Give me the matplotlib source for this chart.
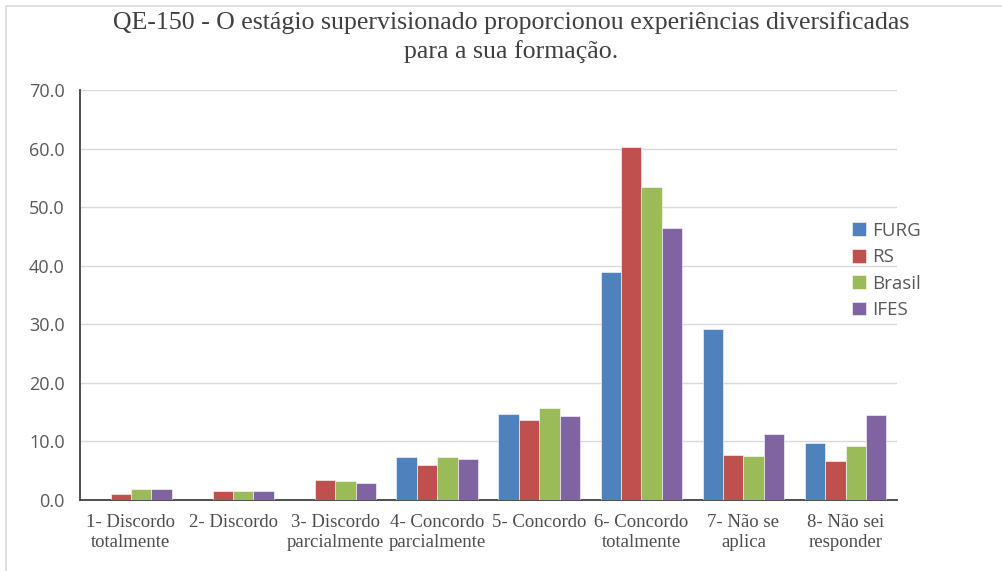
import numpy as np
import matplotlib.pyplot as plt
from matplotlib.patches import Rectangle

categories = ['1- Discordo\ntotalmente', '2- Discordo', '3- Discordo\nparcialmente',
              '4- Concordo\nparcialmente', '5- Concordo', '6- Concordo\ntotalmente',
              '7- Não se\naplica', '8- Não sei\nresponder']
series = ['FURG', 'RS', 'Brasil', 'IFES']
furg = [0.0, 0.0, 0.0, 7.3, 14.7, 38.9, 29.2, 9.8]
rs = [1.0, 1.5, 3.4, 6.0, 13.7, 60.2, 7.7, 6.6]
brasil = [1.9, 1.5, 3.2, 7.3, 15.7, 53.4, 7.6, 9.3]
ifes = [1.9, 1.5, 2.9, 7.0, 14.4, 46.4, 11.3, 14.6]
colors = ['#4F81BD', '#C0504D', '#9BBB59', '#8064A2']

fig = plt.figure(figsize=(10.02, 5.71), dpi=100)
ax = fig.add_axes([0.0798, 0.1243, 0.815, 0.718])

# faint frame round the picture
fig.patches.append(Rectangle((0.006, -0.01), 1.1, 1.0, transform=fig.transFigure,
                             fill=False, edgecolor='#d9d9d9', linewidth=1.2))

x = np.arange(len(categories))
w = 0.2
for i, (vals, name) in enumerate(zip([furg, rs, brasil, ifes], series)):
    ax.bar(x + (i - 1.5) * w, vals, w, color=colors[i], label=name,
           edgecolor='white', linewidth=0.4, zorder=3)

ax.set_xlim(-0.5, len(categories) - 0.5)
ax.set_ylim(0, 70)
ax.set_yticks(np.arange(0, 71, 10))
ax.set_yticklabels(['%.1f' % v for v in np.arange(0, 71, 10)],
                   fontfamily='Open Sans', fontsize=13, color='#595959')
ax.set_xticks(x)
ax.set_xticklabels(categories, fontfamily='Liberation Serif', fontsize=13.5,
                   color='#4d4d4d', linespacing=1.25)
ax.tick_params(axis='y', length=0, pad=11)
ax.tick_params(axis='x', length=0, pad=10)
ax.grid(axis='y', color='#d9d9d9', linewidth=1, zorder=0)
for s in ['top', 'right']:
    ax.spines[s].set_visible(False)
ax.spines['left'].set_color('#404040')
ax.spines['bottom'].set_color('#404040')
ax.spines['left'].set_linewidth(1.3)
ax.spines['bottom'].set_linewidth(1.3)

fig.text(0.51, 0.935, 'QE-150 - O estágio supervisionado proporcionou experiências diversificadas\npara a sua formação.',
         ha='center', va='center', fontfamily='Liberation Serif', fontsize=18.6,
         color='#404040', linespacing=1.35)

leg = ax.legend(loc='center left', bbox_to_anchor=(0.925, 0.56), frameon=False,
                prop={'family': 'Open Sans', 'size': 13.5}, handlelength=0.75,
                handleheight=0.75, handletextpad=0.3, labelspacing=0.45, labelcolor='#595959')

fig.savefig('out.png', dpi=100, facecolor='white')
